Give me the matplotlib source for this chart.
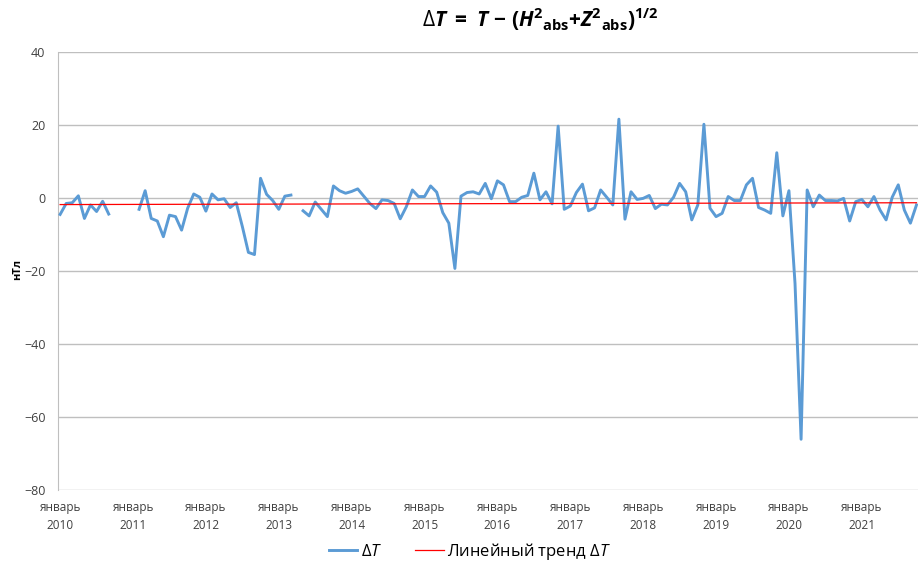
import numpy as np
import matplotlib
matplotlib.use("Agg")
import matplotlib.pyplot as plt

nan = np.nan
# monthly ΔT values, Jan 2010 .. Oct 2021 (nT)
y2010 = [-4.5, -1.5, -1.3, 0.6, -5.6, -1.9, -3.7, -0.9, -4.4, nan, nan, nan]
y2011 = [nan, -3.1, 2.0, -5.6, -6.3, -10.6, -4.7, -5.1, -8.8, -2.8, 1.1, 0.2]
y2012 = [-3.6, 1.1, -0.5, -0.2, -2.6, -1.3, -7.8, -14.9, -15.5, 5.4, 1.0, -0.7]
y2013 = [-3.1, 0.5, 0.8, nan, -3.5, -4.9, -1.1, -3.1, -5.1, 3.3, 2.0, 1.3]
y2014 = [1.8, 2.5, 0.5, -1.5, -2.9, -0.5, -0.7, -1.5, -5.7, -2.4, 2.2, 0.4]
y2015 = [0.4, 3.3, 1.6, -4.0, -6.9, -19.3, 0.5, 1.5, 1.7, 1.1, 4.0, -0.2]
y2016 = [4.7, 3.6, -1.0, -1.0, 0.2, 0.7, 6.8, -0.5, 1.7, -1.6, 19.7, -3.1]
y2017 = [-2.2, 1.5, 3.8, -3.5, -2.7, 2.2, 0.2, -1.9, 21.6, -5.8, 1.7, -0.4]
y2018 = [-0.1, 0.7, -2.9, -1.7, -1.9, 0.2, 4.0, 1.7, -6.0, -1.9, 20.2, -2.8]
y2019 = [-5.1, -4.2, 0.4, -0.7, -0.7, 3.6, 5.4, -2.6, -3.3, -4.2, 12.4, -4.9]
y2020 = [2.0, -23.4, -66.1, 2.2, -2.4, 0.8, -0.7, -0.7, -0.8, -0.1, -6.3, -1.0]
y2021 = [-0.4, -2.4, 0.4, -3.3, -6.0, 0.2, 3.6, -3.3, -6.9, -1.9]

delta_t = y2010 + y2011 + y2012 + y2013 + y2014 + y2015 + y2016 + y2017 + y2018 + y2019 + y2020 + y2021
years = [2010, 2011, 2012, 2013, 2014, 2015, 2016, 2017, 2018, 2019, 2020, 2021]
month_label = "январь"
trend_start = -1.8
trend_end = -1.3

plt.rcParams['font.family'] = ['Open Sans', 'DejaVu Sans']
plt.rcParams['mathtext.fontset'] = 'custom'
plt.rcParams['mathtext.rm'] = 'Open Sans'
plt.rcParams['mathtext.it'] = 'Open Sans:italic'
plt.rcParams['mathtext.bf'] = 'Open Sans:bold'
plt.rcParams['mathtext.bfit'] = 'Open Sans:italic:bold'

W, H = 918, 563
fig = plt.figure(figsize=(W / 100, H / 100), dpi=100)
ax = fig.add_axes([58 / W, 1 - 490 / H, (918 - 58) / W, (490 - 52) / H])

x = np.arange(len(delta_t))
vals = np.array(delta_t, dtype=float)
ax.plot(x, vals, color='#5B9BD5', lw=2.1, solid_joinstyle='round', zorder=3,
        label=r'$\Delta\mathit{T}$')
ax.plot([x[0], x[-1]], [trend_start, trend_end], color='#FF0000', lw=0.9, zorder=4,
        label=r'Линейный тренд $\Delta\mathit{T}$')

ax.set_ylim(-80, 40)
ax.set_yticks(np.arange(-80, 41, 20))
ax.set_xlim(-0.35, len(delta_t) - 1 + 0.25)
ax.grid(axis='y', color='#BFBFBF', lw=1.0)
ax.set_axisbelow(True)
for s in ['top', 'right', 'bottom']:
    ax.spines[s].set_visible(False)
ax.spines['left'].set_color('#BFBFBF')
ax.tick_params(axis='y', length=0, labelsize=9, colors='#404040', pad=9)
ax.set_xticks([12 * i for i in range(len(years))])
ax.set_xticklabels([f"{month_label}\n{yr}" for yr in years], fontsize=8.5, color='#404040',
                   linespacing=1.5)
ax.tick_params(axis='x', length=0, pad=8)

fig.text(18 / W, 1 - 270 / H, 'нТл', rotation=90, ha='center', va='center',
         fontsize=8, fontweight='bold')

title = (r'$\Delta\mathbfit{T}\ \mathbf{=}\ \mathbfit{T}\ \mathbf{-}\ \mathbf{(}\mathbfit{H}^{\mathbf{2}}{}_{\mathbf{abs}}'
         r'\mathbf{+}\mathbfit{Z}^{\mathbf{2}}{}_{\mathbf{abs}}\mathbf{)}^{\mathbf{1/2}}$')
fig.text(540 / W, 1 - 20 / H, title, ha='center', va='center', fontsize=15)

fig.legend(loc='center', bbox_to_anchor=(470 / W, 1 - 551 / H), ncol=2, frameon=False,
           fontsize=12, handlelength=1.7, columnspacing=2.0, handletextpad=0.2)

fig.savefig('out.png', dpi=100)
